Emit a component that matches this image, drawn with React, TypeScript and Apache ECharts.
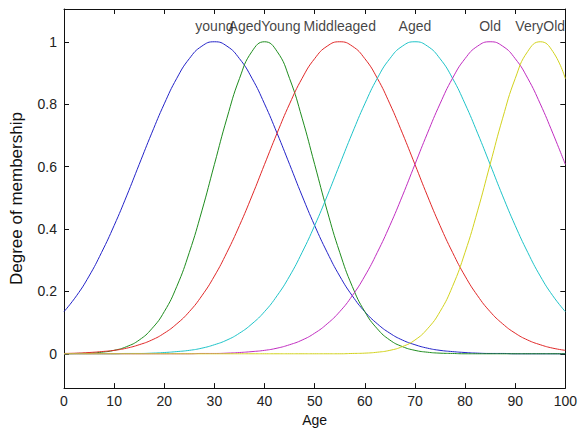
import { useEffect, useRef } from 'react';
import * as echarts from 'echarts';

const ages = [0, 2.5, 5, 7.5, 10, 12.5, 15, 17.5, 20, 22.5, 25, 27.5, 30, 32.5, 35, 37.5, 40, 42.5, 45, 47.5, 50, 52.5, 55, 57.5, 60, 62.5, 65, 67.5, 70, 72.5, 75, 77.5, 80, 82.5, 85, 87.5, 90, 92.5, 95, 97.5, 100];

const young = [0.135, 0.186, 0.249, 0.325, 0.411, 0.506, 0.607, 0.707, 0.801, 0.883, 0.946, 0.986, 1, 0.986, 0.946, 0.883, 0.801, 0.707, 0.607, 0.506, 0.411, 0.325, 0.249, 0.186, 0.135, 0.096, 0.066, 0.044, 0.029, 0.018, 0.011, 0.007, 0.004, 0.002, 0.001, 0.001, 0, 0, 0, 0, 0];
const agedYoung = [0, 0.001, 0.002, 0.005, 0.011, 0.023, 0.044, 0.08, 0.135, 0.216, 0.325, 0.458, 0.607, 0.755, 0.882, 0.969, 1, 0.969, 0.882, 0.755, 0.607, 0.458, 0.325, 0.216, 0.135, 0.08, 0.044, 0.023, 0.011, 0.005, 0.002, 0.001, 0, 0, 0, 0, 0, 0, 0, 0, 0];
const middleaged = [0.001, 0.002, 0.004, 0.007, 0.011, 0.018, 0.029, 0.044, 0.066, 0.096, 0.135, 0.186, 0.249, 0.325, 0.411, 0.506, 0.607, 0.707, 0.801, 0.883, 0.946, 0.986, 1, 0.986, 0.946, 0.883, 0.801, 0.707, 0.607, 0.506, 0.411, 0.325, 0.249, 0.186, 0.135, 0.096, 0.066, 0.044, 0.029, 0.018, 0.011];
const aged = [0, 0, 0, 0, 0, 0.001, 0.001, 0.002, 0.004, 0.007, 0.011, 0.018, 0.029, 0.044, 0.066, 0.096, 0.135, 0.186, 0.249, 0.325, 0.411, 0.506, 0.607, 0.707, 0.801, 0.883, 0.946, 0.986, 1, 0.986, 0.946, 0.883, 0.801, 0.707, 0.607, 0.506, 0.411, 0.325, 0.249, 0.186, 0.135];
const old = [0, 0, 0, 0, 0, 0, 0, 0, 0, 0, 0, 0.001, 0.001, 0.002, 0.004, 0.007, 0.011, 0.018, 0.029, 0.044, 0.066, 0.096, 0.135, 0.186, 0.249, 0.325, 0.411, 0.506, 0.607, 0.707, 0.801, 0.883, 0.946, 0.986, 1, 0.986, 0.946, 0.883, 0.801, 0.707, 0.607];
const veryOld = [0, 0, 0, 0, 0, 0, 0, 0, 0, 0, 0, 0, 0, 0, 0, 0, 0, 0, 0, 0, 0, 0, 0, 0.001, 0.002, 0.005, 0.011, 0.023, 0.044, 0.08, 0.135, 0.216, 0.325, 0.458, 0.607, 0.755, 0.882, 0.969, 1, 0.969, 0.882];

const mfNames = ['young', 'AgedYoung', 'Middleaged', 'Aged', 'Old', 'VeryOld'];
const mfCenters = [30, 40, 55, 70, 85, 95];
const mfValues = [young, agedYoung, middleaged, aged, old, veryOld];
const mfColors = ['#2323c8', '#1e8c1e', '#e02828', '#1ec3c8', '#c02dc0', '#d2d21e'];

const xTicks = [0, 10, 20, 30, 40, 50, 60, 70, 80, 90, 100];
const yTicks = [0, 0.2, 0.4, 0.6, 0.8, 1];

const FONT = 'Liberation Sans, Arial, sans-serif';

export default function App() {
  const ref = useRef<HTMLDivElement>(null);
  useEffect(() => {
    document.body.style.margin = '0';
    if (!ref.current) return;
    const chart = echarts.init(ref.current, undefined, { renderer: 'svg' });
    const frameLine = { show: true, onZero: false, lineStyle: { color: '#111', width: 1 } };
    const tick = (vals: number[]) => ({ show: true, inside: true, length: 5, customValues: vals, lineStyle: { color: '#111' } });
    chart.setOption({
      animation: false,
      backgroundColor: '#fff',
      grid: { left: 59, right: 9, top: 9, bottom: 39 },
      xAxis: [
        {
          type: 'value', min: 0, max: 100, position: 'bottom',
          name: 'Age', nameLocation: 'middle', nameGap: 23,
          nameTextStyle: { fontFamily: FONT, fontSize: 14, color: '#111' },
          axisLine: frameLine, axisTick: tick(xTicks),
          axisLabel: { customValues: xTicks, fontFamily: FONT, fontSize: 14, color: '#222', margin: 6 },
          splitLine: { show: false },
        },
        {
          type: 'value', min: 0, max: 100, position: 'top',
          axisLine: frameLine, axisTick: tick(xTicks),
          axisLabel: { show: false }, splitLine: { show: false },
        },
      ],
      yAxis: [
        {
          type: 'value', min: -0.11, max: 1.105, position: 'left',
          name: 'Degree of membership', nameLocation: 'middle', nameGap: 39, nameRotate: 90,
          nameTextStyle: { fontFamily: FONT, fontSize: 17, color: '#111' },
          axisLine: frameLine, axisTick: tick(yTicks),
          axisLabel: { customValues: yTicks, fontFamily: FONT, fontSize: 14, color: '#222', margin: 7, formatter: (v: number) => String(Math.round(v * 10) / 10) },
          splitLine: { show: false },
        },
        {
          type: 'value', min: -0.11, max: 1.105, position: 'right',
          axisLine: frameLine, axisTick: tick(yTicks),
          axisLabel: { show: false }, splitLine: { show: false },
        },
      ],
      series: [
        ...mfNames.map((name, i) => ({
          type: 'line', name,
          data: ages.map((a, j) => [a, mfValues[i][j]]),
          showSymbol: false, symbol: 'none', smooth: 0.5,
          lineStyle: { color: mfColors[i], width: 1 },
          itemStyle: { color: mfColors[i] },
          z: 2 + i,
        })),
        {
          type: 'scatter', name: 'labels',
          data: mfNames.map((n, i) => ({ name: n, value: [mfCenters[i], 1.05] })),
          symbolSize: 1, itemStyle: { color: 'rgba(0,0,0,0)' },
          label: { show: true, position: 'inside', formatter: '{b}', fontFamily: FONT, fontSize: 14, color: '#111' },
          z: 20,
        },
      ],
    });
    return () => chart.dispose();
  }, []);
  return <div ref={ref} style={{ width: 580, height: 432 }} />;
}
